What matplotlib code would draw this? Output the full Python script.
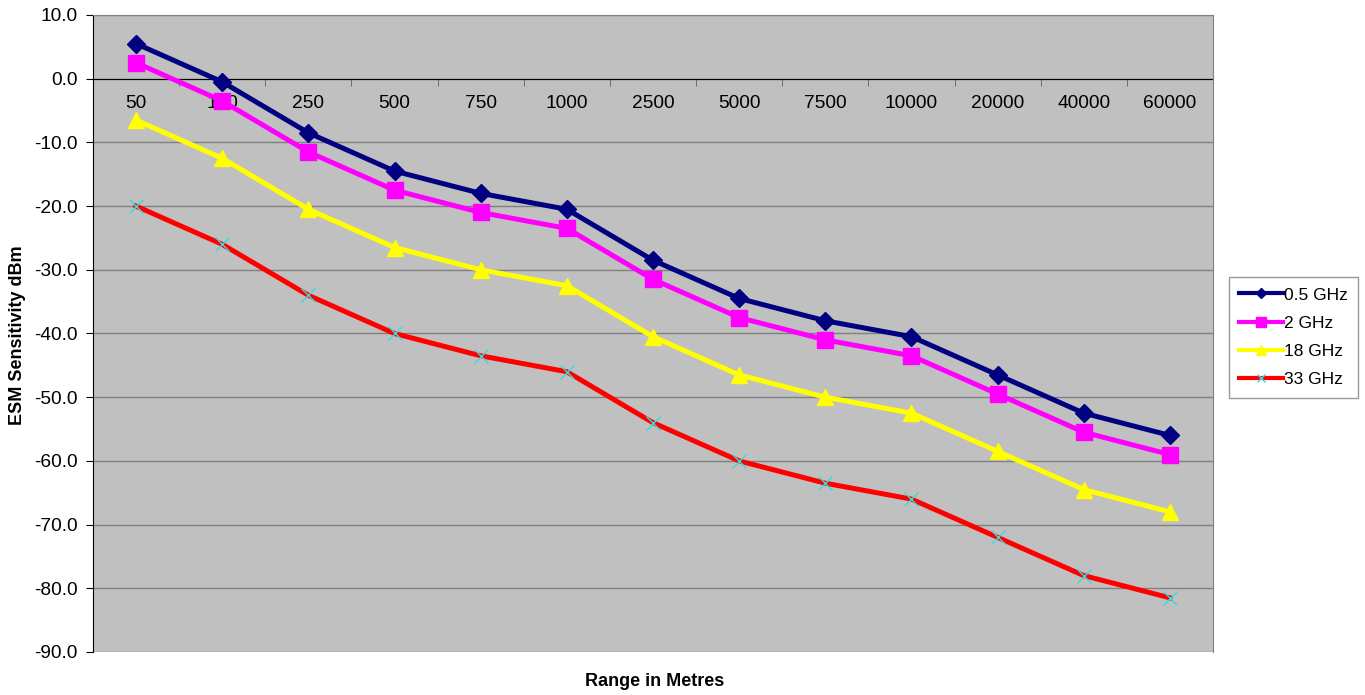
import matplotlib.pyplot as plt
import numpy as np

plt.rcParams['font.family'] = ['Liberation Sans', 'DejaVu Sans']

ranges = ['50', '100', '250', '500', '750', '1000', '2500', '5000', '7500',
          '10000', '20000', '40000', '60000']
ghz_05 = [5.5, -0.5, -8.5, -14.5, -18.0, -20.5, -28.5, -34.5, -38.0, -40.5, -46.5, -52.5, -56.0]
ghz_2 = [2.5, -3.5, -11.5, -17.5, -21.0, -23.5, -31.5, -37.5, -41.0, -43.5, -49.5, -55.5, -59.0]
ghz_18 = [-6.5, -12.5, -20.5, -26.5, -30.0, -32.5, -40.5, -46.5, -50.0, -52.5, -58.5, -64.5, -68.0]
ghz_33 = [-20.0, -26.0, -34.0, -40.0, -43.5, -46.0, -54.0, -60.0, -63.5, -66.0, -72.0, -78.0, -81.5]

fig = plt.figure(figsize=(13.65, 6.95), dpi=100)
ax = fig.add_axes([93 / 1365, 1 - 652 / 695, 1120 / 1365, 637 / 695])
ax.set_facecolor('#c0c0c0')

x = np.arange(len(ranges))
ax.plot(x, ghz_05, color='#000080', lw=3.6, marker='D', ms=9, label='0.5 GHz', zorder=5)
ax.plot(x, ghz_2, color='#ff00ff', lw=3.6, marker='s', ms=11, label='2 GHz', zorder=4)
ax.plot(x, ghz_18, color='#ffff00', lw=3.6, marker='^', ms=12, label='18 GHz', zorder=3)
ax.plot(x, ghz_33, color='#ff0000', lw=3.6, marker='x', ms=10, mec='#33dddd', mew=1,
        label='33 GHz', zorder=2)

ax.set_xlim(-0.5, len(ranges) - 0.5)
ax.set_ylim(-90, 10)
ax.set_yticks(np.arange(-90, 11, 10))
ax.set_yticklabels([f'{v:.1f}' for v in np.arange(-90, 11, 10)], fontsize=13.8)
ax.yaxis.grid(True, color='#808080', lw=1)
ax.set_axisbelow(True)

# category axis crosses at y = 0
ax.spines['bottom'].set_position(('data', 0))
ax.spines['bottom'].set_color('black')
ax.spines['bottom'].set_zorder(1)
ax.spines['left'].set_color('black')
for s in ['top', 'right']:
    ax.spines[s].set_color('#808080')
ax.set_xticks(x)
ax.set_xticklabels(ranges, fontsize=13.8)
ax.tick_params(axis='x', length=0, pad=12)
ax.set_xticks(np.arange(-0.5, len(ranges), 1), minor=True)
ax.tick_params(axis='x', which='minor', direction='out', length=5, color='#606060')
ax.tick_params(axis='y', length=5, color='black', pad=6)

fig.text(18 / 1365, 1 - 335 / 695, 'ESM Sensitivity dBm', rotation=90, fontsize=13,
         fontweight='bold', ha='center', va='center')
fig.text(655 / 1365, 1 - 681 / 695, 'Range in Metres', fontsize=13,
         fontweight='bold', ha='center', va='center')

leg = fig.legend(loc='upper left', bbox_to_anchor=(1229 / 1365, 1 - 277 / 695),
                 fontsize=12.5, frameon=True, fancybox=False, edgecolor='#808080',
                 handlelength=2.5, handletextpad=0.05, borderpad=0.6,
                 labelspacing=0.75, markerscale=0.6, borderaxespad=0)
for line in leg.get_lines():
    line.set_linewidth(3)

fig.savefig('out.png', dpi=100)
